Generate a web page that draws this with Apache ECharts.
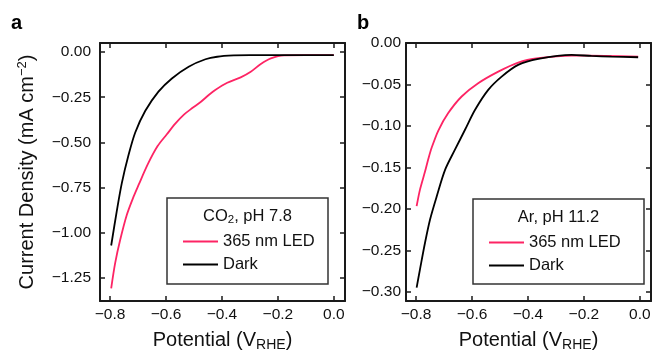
<!DOCTYPE html>
<html><head><meta charset="utf-8">
<script src="https://cdn.jsdelivr.net/npm/echarts@6/dist/echarts.min.js"></script>
<style>html,body{margin:0;padding:0;background:#fff}#c{width:653px;height:350px}</style>
</head><body><div id="c"></div>
<script>
// Panel a: CO2, pH 7.8
const aDarkV = [-0.796,-0.776,-0.758,-0.734,-0.71,-0.674,-0.627,-0.579,-0.519,-0.459,-0.417,-0.358,-0.3,-0.2,-0.1,0.0];
const aDarkJ = [-1.07,-0.88,-0.725,-0.57,-0.445,-0.325,-0.219,-0.146,-0.081,-0.040,-0.026,-0.019,-0.017,-0.017,-0.017,-0.017];
const aLedV = [-0.796,-0.782,-0.764,-0.74,-0.716,-0.698,-0.665,-0.63,-0.597,-0.566,-0.535,-0.506,-0.475,-0.445,-0.424,-0.381,-0.333,-0.297,-0.261,-0.225,-0.178,-0.1,0.0];
const aLedJ = [-1.307,-1.169,-1.04,-0.90,-0.80,-0.735,-0.62,-0.52,-0.455,-0.395,-0.345,-0.31,-0.275,-0.235,-0.21,-0.17,-0.14,-0.109,-0.066,-0.035,-0.018,-0.017,-0.017];
// Panel b: Ar, pH 11.2
const bDarkV = [-0.798,-0.786,-0.768,-0.75,-0.726,-0.696,-0.661,-0.625,-0.589,-0.542,-0.494,-0.435,-0.363,-0.244,-0.173,-0.101,-0.006];
const bDarkJ = [-0.2949,-0.2728,-0.2408,-0.2127,-0.1847,-0.1527,-0.1286,-0.1046,-0.0805,-0.0565,-0.0405,-0.0264,-0.0192,-0.0144,-0.0156,-0.0164,-0.0172];
const bLedV = [-0.798,-0.786,-0.768,-0.756,-0.744,-0.72,-0.685,-0.637,-0.578,-0.506,-0.435,-0.363,-0.244,-0.125,-0.006];
const bLedJ = [-0.1967,-0.1767,-0.155,-0.1395,-0.126,-0.1052,-0.0845,-0.0645,-0.0485,-0.0345,-0.0236,-0.0184,-0.0152,-0.0156,-0.0164];
// tick labels
const xTicks = [-0.8,-0.6,-0.4,-0.2,0.0];
const aYTicks = [0,-0.25,-0.5,-0.75,-1.0,-1.25];
const bYTicks = [0,-0.05,-0.10,-0.15,-0.20,-0.25,-0.30];
const seriesNames = ['365 nm LED','Dark'];
const legendTitles = ['CO{sub|2}, pH 7.8','Ar, pH 11.2'];

const FONT = '"Liberation Sans", Arial, sans-serif';
const PINK = '#fd2464';
const AX = '#1a1a1a';
const fmt = d => v => (v < -1e-9 ? '\u2212' : '') + Math.abs(v).toFixed(d);
const zip = (a,b) => a.map((v,i)=>[v,b[i]]);

const grids = [
  {left:100, top:43, width:245, height:258, outerBoundsMode:'none', containLabel:false},
  {left:406, top:43, width:245, height:258, outerBoundsMode:'none', containLabel:false}
];
function xAxes(gi){
  const base = {type:'value', gridIndex:gi, min:-0.836, max:0.04, splitLine:{show:false},
    axisLine:{show:true, onZero:false, lineStyle:{color:AX, width:2}},
    axisTick:{show:true, inside:true, length:5, lineStyle:{color:AX,width:1.5}, customValues:xTicks}};
  return [
    Object.assign({}, base, {position:'bottom',
      axisLabel:{customValues:xTicks, formatter:fmt(1), color:'#111', fontSize:15.5, fontFamily:FONT, margin:6},
      name:'Potential (V{sub|RHE})', nameLocation:'middle', nameGap:28,
      nameTextStyle:{fontSize:20, fontFamily:FONT, color:'#111', rich:{sub:{fontSize:14, fontFamily:FONT, color:'#111', padding:[9,0,0,0]}}}}),
    Object.assign({}, base, {position:'top', axisLabel:{show:false}})
  ];
}
function yAxes(gi, min, max, ticks, dec, margin, withName){
  const base = {type:'value', gridIndex:gi, min:min, max:max, splitLine:{show:false},
    axisLine:{show:true, onZero:false, lineStyle:{color:AX, width:2}},
    axisTick:{show:true, inside:true, length:5, lineStyle:{color:AX,width:1.5}, customValues:ticks}};
  const left = Object.assign({}, base, {position:'left',
    axisLabel:{customValues:ticks, formatter:fmt(dec), color:'#111', fontSize:15.5, fontFamily:FONT, margin:margin}});
  if (withName) Object.assign(left, {
    name:'Current Density (mA cm{sup|\u22122})', nameLocation:'middle', nameGap:61,
    nameTextStyle:{fontSize:20, fontFamily:FONT, color:'#111', rich:{sup:{fontSize:13, fontFamily:FONT, color:'#111', padding:[0,0,10,0]}}}});
  return [left, Object.assign({}, base, {position:'right', axisLabel:{show:false}})];
}
const series = [
  {name:seriesNames[0], data:zip(aLedV,aLedJ), color:PINK, x:0, y:0},
  {name:seriesNames[1], data:zip(aDarkV,aDarkJ), color:'#000', x:0, y:0},
  {name:seriesNames[0], data:zip(bLedV,bLedJ), color:PINK, x:2, y:2},
  {name:seriesNames[1], data:zip(bDarkV,bDarkJ), color:'#000', x:2, y:2}
].map(s => ({type:'line', name:s.name, data:s.data, xAxisIndex:s.x, yAxisIndex:s.y,
  showSymbol:false, smooth:0.3, color:s.color, lineStyle:{color:s.color, width:1.8}, z:3}));

const legendBoxes = [{x:167,y:198,w:161,h:86},{x:473,y:199,w:171,h:85}];
const legends = legendBoxes.map(b => ({
  data:seriesNames, orient:'vertical', left:b.x+11, top:b.y+30, icon:'rect', itemWidth:35, itemHeight:2,
  itemGap:6, itemTextGap:12, selectedMode:false, z:20,
  textStyle:{fontSize:16.5, fontFamily:FONT, color:'#111', lineHeight:17}
}));
const graphic = [];
legendBoxes.forEach((b,i) => {
  graphic.push({type:'rect', shape:{x:b.x, y:b.y, width:b.w, height:b.h}, style:{fill:'#fff', stroke:'#333', lineWidth:1.5}, z:10});
  graphic.push({type:'text', x:b.x+b.w/2, y:b.y+18, z:11, style:{text:legendTitles[i], align:'center', verticalAlign:'middle',
    fontSize:16.5, fontFamily:FONT, fill:'#111', rich:{sub:{fontSize:11.5, fontFamily:FONT, fill:'#111', padding:[7,0,0,0]}}}});
});
graphic.push({type:'text', x:11, y:23, style:{text:'a', fontSize:20, fontWeight:'bold', fontFamily:FONT, fill:'#000', verticalAlign:'middle'}});
graphic.push({type:'text', x:357, y:23, style:{text:'b', fontSize:20, fontWeight:'bold', fontFamily:FONT, fill:'#000', verticalAlign:'middle'}});

const chart = echarts.init(document.getElementById('c'), null, {renderer:'canvas'});
chart.setOption({
  animation:false,
  backgroundColor:'#fff',
  grid:grids,
  xAxis:[...xAxes(0), ...xAxes(1)],
  yAxis:[...yAxes(0,-1.377,0.05,aYTicks,2,9,true), ...yAxes(1,-0.311,0.0,bYTicks,2,5,false)],
  legend:legends,
  series:series,
  graphic:{elements:graphic}
});
</script></body></html>
